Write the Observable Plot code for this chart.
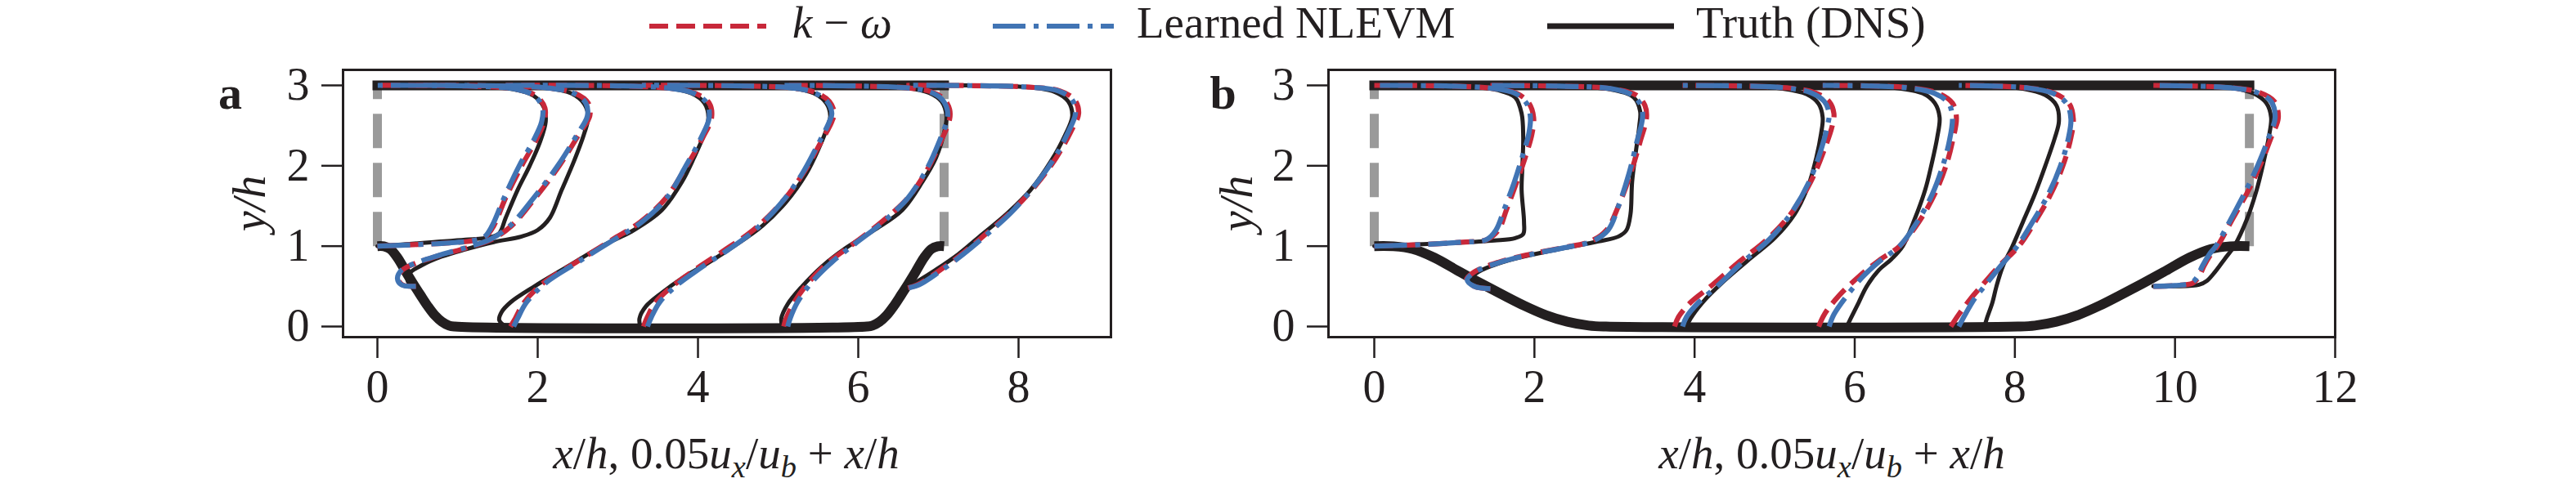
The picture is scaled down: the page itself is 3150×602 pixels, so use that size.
<!DOCTYPE html>
<html><head><meta charset="utf-8">
<script src="https://cdn.jsdelivr.net/npm/d3@7"></script>
<script src="https://cdn.jsdelivr.net/npm/@observablehq/plot@0.6"></script>
<style>
body{margin:0;background:#fff;overflow:hidden;}
#fig{position:relative;width:3150px;height:602px;font-family:'Liberation Serif','Times New Roman',serif;color:#231f20;background:#fff;}
#legend{position:absolute;left:0;top:0;width:3150px;height:70px;}
.lt{position:absolute;top:0;font-size:55px;line-height:55px;white-space:nowrap;}
.ls{position:absolute;top:22px;}
.plot{position:absolute;top:70px;}
.xl{position:absolute;top:527px;font-size:55px;line-height:55px;white-space:nowrap;transform:translateX(-50%);}
.xl .s{font-size:0.7em;position:relative;top:0.28em;}
</style></head><body><div id="fig">
<div id="legend"></div>
</div>
<script>
// ---------- data ----------
const xTicksA = [0, 2, 4, 6, 8];
const xTicksB = [0, 2, 4, 6, 8, 10, 12];
const yTicks = [0, 1, 2, 3];
const lengthA = 7.071, lengthB = 10.929;
const legendLabels = ["k − ω", "Learned NLEVM", "Truth (DNS)"];

const bottomWallA = [[0,1],[0.08,0.998],[0.16,0.964],[0.25,0.857],[0.357,0.678],[0.446,0.533],[0.536,0.393],[0.625,0.258],[0.714,0.142],[0.804,0.06],[0.893,0.012],[0.964,0],[6.107,0],[6.178,0.012],[6.267,0.06],[6.357,0.142],[6.446,0.258],[6.535,0.393],[6.625,0.533],[6.714,0.678],[6.821,0.857],[6.911,0.964],[6.991,0.998],[7.071,1]];
const bottomWallB = [[0,1],[0.241,0.998],[0.482,0.964],[0.75,0.857],[1.071,0.678],[1.339,0.533],[1.607,0.393],[1.875,0.258],[2.143,0.142],[2.411,0.06],[2.679,0.012],[2.893,0],[8.036,0],[8.25,0.012],[8.518,0.06],[8.786,0.142],[9.054,0.258],[9.322,0.393],[9.59,0.533],[9.858,0.678],[10.179,0.857],[10.447,0.964],[10.688,0.998],[10.929,1]];

// panel a profiles (x = x/h + 0.05 u/ub, y = y/h)
const dnsA = [
 [[0,1.0],[0.3,1.02],[0.7,1.05],[1.1,1.08],[1.4,1.11],[1.52,1.16],[1.6,1.35],[1.75,1.7],[1.9,2.0],[2.03,2.3],[2.1,2.55],[2.08,2.72],[1.95,2.87],[1.7,2.95],[1.2,2.99],[0.6,3.0],[0,3.0]],
 [[0.48,0.5],[0.38,0.56],[0.4,0.66],[0.55,0.76],[0.8,0.87],[1.1,0.96],[1.45,1.05],[1.8,1.12],[2.0,1.2],[2.15,1.35],[2.3,1.7],[2.45,2.05],[2.58,2.4],[2.63,2.6],[2.58,2.77],[2.42,2.9],[2.1,2.97],[1.5,3.0],[0.48,3.0]],
 [[1.6,0.0],[1.52,0.08],[1.55,0.18],[1.66,0.3],[1.96,0.5],[2.38,0.75],[2.8,1.0],[3.2,1.2],[3.55,1.45],[3.8,1.8],[3.95,2.1],[4.08,2.4],[4.13,2.6],[4.08,2.78],[3.92,2.9],[3.6,2.97],[2.8,3.0],[1.6,3.0]],
 [[3.28,0.0],[3.27,0.1],[3.35,0.25],[3.55,0.42],[3.8,0.6],[4.14,0.8],[4.45,1.0],[4.8,1.25],[5.1,1.55],[5.35,1.9],[5.5,2.2],[5.62,2.5],[5.65,2.62],[5.6,2.78],[5.45,2.9],[5.15,2.97],[4.3,3.0],[3.3,3.0]],
 [[5.05,0.0],[5.04,0.1],[5.12,0.28],[5.3,0.5],[5.55,0.75],[5.85,0.98],[6.2,1.2],[6.55,1.45],[6.8,1.8],[6.97,2.1],[7.08,2.45],[7.1,2.62],[7.04,2.8],[6.88,2.91],[6.6,2.97],[5.9,3.0],[5.08,3.0]],
 [[6.6,0.48],[6.72,0.55],[6.96,0.7],[7.25,0.9],[7.55,1.15],[7.85,1.4],[8.15,1.7],[8.4,2.05],[8.58,2.38],[8.67,2.62],[8.62,2.8],[8.45,2.92],[8.1,2.98],[7.4,3.0],[6.6,3.0]]
];
const kwA = [
 [[0,1.0],[0.5,1.02],[0.9,1.04],[1.2,1.07],[1.35,1.12],[1.45,1.25],[1.6,1.6],[1.8,2.0],[1.97,2.3],[2.08,2.55],[2.09,2.72],[1.98,2.87],[1.75,2.95],[1.2,2.99],[0,3.0]],
 [[0.48,0.5],[0.31,0.52],[0.26,0.6],[0.31,0.7],[0.46,0.78],[0.76,0.88],[1.12,0.98],[1.42,1.08],[1.67,1.25],[1.97,1.6],[2.27,2.0],[2.52,2.4],[2.65,2.62],[2.63,2.78],[2.47,2.9],[2.1,2.97],[0.48,3.0]],
 [[1.66,0.0],[1.72,0.1],[1.83,0.3],[2.08,0.55],[2.48,0.8],[2.88,1.05],[3.28,1.3],[3.6,1.6],[3.86,2.0],[4.06,2.35],[4.17,2.6],[4.14,2.78],[3.97,2.9],[3.6,2.97],[1.6,3.0]],
 [[3.32,0.0],[3.37,0.12],[3.47,0.3],[3.68,0.5],[3.98,0.72],[4.33,0.95],[4.69,1.2],[5.05,1.55],[5.31,1.9],[5.51,2.25],[5.67,2.55],[5.7,2.66],[5.64,2.8],[5.47,2.91],[5.15,2.97],[3.3,3.0]],
 [[5.07,0.0],[5.1,0.1],[5.2,0.3],[5.38,0.55],[5.63,0.8],[5.94,1.03],[6.29,1.3],[6.62,1.6],[6.86,1.95],[7.03,2.3],[7.14,2.58],[7.14,2.7],[7.07,2.83],[6.91,2.92],[6.6,2.97],[5.08,3.0]],
 [[6.62,0.48],[6.74,0.52],[6.99,0.68],[7.29,0.9],[7.59,1.15],[7.9,1.42],[8.21,1.75],[8.47,2.1],[8.65,2.42],[8.75,2.65],[8.7,2.82],[8.52,2.93],[8.1,2.98],[6.6,3.0]]
];
const nlevmA = [
 [[0,1.0],[0.5,1.02],[0.9,1.04],[1.2,1.07],[1.34,1.12],[1.43,1.25],[1.58,1.6],[1.77,2.0],[1.94,2.3],[2.05,2.55],[2.06,2.72],[1.96,2.87],[1.74,2.95],[1.2,2.99],[0,3.0]],
 [[0.48,0.5],[0.3,0.52],[0.25,0.6],[0.3,0.7],[0.45,0.78],[0.75,0.88],[1.1,0.98],[1.4,1.08],[1.65,1.25],[1.95,1.6],[2.25,2.0],[2.5,2.4],[2.62,2.62],[2.6,2.78],[2.45,2.9],[2.1,2.97],[0.48,3.0]],
 [[1.7,0.0],[1.75,0.1],[1.86,0.3],[2.11,0.55],[2.5,0.8],[2.9,1.05],[3.3,1.3],[3.61,1.6],[3.85,2.0],[4.04,2.35],[4.14,2.6],[4.11,2.78],[3.95,2.9],[3.6,2.97],[1.6,3.0]],
 [[3.37,0.0],[3.42,0.12],[3.52,0.3],[3.72,0.5],[4.02,0.72],[4.37,0.95],[4.71,1.2],[5.05,1.55],[5.3,1.9],[5.49,2.25],[5.64,2.55],[5.67,2.65],[5.61,2.8],[5.45,2.91],[5.15,2.97],[3.3,3.0]],
 [[5.12,0.0],[5.15,0.1],[5.24,0.3],[5.42,0.55],[5.67,0.8],[5.96,1.03],[6.31,1.3],[6.62,1.6],[6.85,1.95],[7.01,2.3],[7.11,2.58],[7.11,2.7],[7.04,2.83],[6.89,2.92],[6.6,2.97],[5.08,3.0]],
 [[6.63,0.48],[6.76,0.52],[7.01,0.68],[7.31,0.9],[7.61,1.15],[7.91,1.42],[8.2,1.75],[8.45,2.1],[8.62,2.42],[8.71,2.65],[8.67,2.82],[8.5,2.93],[8.1,2.98],[6.6,3.0]]
];

// panel b profiles
const dnsB = [
 [[0,1.0],[0.5,1.02],[1.0,1.04],[1.5,1.07],[1.76,1.1],[1.86,1.15],[1.87,1.3],[1.84,1.7],[1.85,2.0],[1.86,2.36],[1.84,2.65],[1.76,2.85],[1.55,2.94],[1.1,2.99],[0.5,3.0],[0,3.0]],
 [[1.45,0.47],[1.3,0.52],[1.22,0.6],[1.3,0.68],[1.6,0.8],[2.0,0.9],[2.4,0.98],[2.8,1.06],[3.05,1.12],[3.15,1.2],[3.2,1.4],[3.22,1.8],[3.27,2.2],[3.31,2.5],[3.32,2.68],[3.24,2.85],[2.95,2.95],[2.3,2.99],[1.45,3.0]],
 [[3.9,0.0],[3.95,0.1],[4.1,0.3],[4.35,0.55],[4.7,0.85],[5.0,1.1],[5.25,1.4],[5.42,1.75],[5.52,2.1],[5.58,2.4],[5.6,2.6],[5.55,2.77],[5.4,2.89],[5.1,2.96],[4.5,2.99],[3.85,3.0]],
 [[5.9,0.0],[5.95,0.1],[6.05,0.3],[6.15,0.5],[6.3,0.7],[6.46,0.84],[6.6,1.0],[6.75,1.34],[6.88,1.7],[6.96,2.02],[7.03,2.35],[7.06,2.6],[7.0,2.78],[6.85,2.9],[6.5,2.97],[5.6,3.0]],
 [[7.62,0.0],[7.65,0.1],[7.72,0.3],[7.77,0.5],[7.85,0.75],[7.97,1.0],[8.1,1.3],[8.25,1.65],[8.38,2.0],[8.5,2.35],[8.55,2.55],[8.52,2.75],[8.38,2.88],[8.1,2.96],[7.3,3.0]],
 [[9.73,0.5],[10.0,0.5],[10.3,0.52],[10.4,0.57],[10.5,0.68],[10.62,0.84],[10.74,1.0],[10.9,1.34],[11.02,1.7],[11.1,2.02],[11.17,2.35],[11.2,2.6],[11.14,2.78],[10.98,2.9],[10.7,2.97],[9.73,3.0]]
];
const kwB = [
 [[0,1.0],[0.6,1.02],[1.1,1.05],[1.4,1.08],[1.55,1.2],[1.65,1.45],[1.78,1.8],[1.9,2.15],[1.97,2.4],[1.99,2.6],[1.93,2.78],[1.78,2.9],[1.5,2.96],[1.0,2.99],[0,3.0]],
 [[1.45,0.47],[1.25,0.5],[1.15,0.58],[1.25,0.68],[1.55,0.8],[1.95,0.9],[2.35,0.98],[2.7,1.06],[2.9,1.2],[3.05,1.5],[3.2,1.9],[3.32,2.3],[3.4,2.6],[3.38,2.75],[3.27,2.88],[2.95,2.96],[2.3,2.99],[1.45,3.0]],
 [[3.75,0.0],[3.8,0.12],[3.95,0.3],[4.2,0.5],[4.55,0.8],[4.9,1.08],[5.2,1.4],[5.45,1.8],[5.62,2.2],[5.72,2.5],[5.74,2.65],[5.68,2.8],[5.5,2.91],[5.15,2.97],[3.85,3.0]],
 [[5.55,0.0],[5.62,0.15],[5.8,0.38],[6.05,0.62],[6.3,0.82],[6.56,1.0],[6.8,1.3],[7.0,1.65],[7.14,2.0],[7.22,2.3],[7.27,2.6],[7.22,2.78],[7.05,2.9],[6.7,2.97],[5.6,3.0]],
 [[7.2,0.0],[7.3,0.15],[7.45,0.35],[7.58,0.5],[7.8,0.75],[8.05,1.0],[8.25,1.3],[8.45,1.65],[8.6,2.0],[8.7,2.35],[8.73,2.58],[8.68,2.77],[8.5,2.9],[8.15,2.97],[7.3,3.0]],
 [[9.73,0.5],[10.0,0.51],[10.22,0.54],[10.3,0.62],[10.36,0.75],[10.45,0.9],[10.53,1.0],[10.72,1.34],[10.92,1.7],[11.07,2.02],[11.2,2.35],[11.29,2.6],[11.24,2.8],[11.06,2.91],[10.7,2.97],[9.73,3.0]]
];
const nlevmB = [
 [[0,1.0],[0.6,1.02],[1.1,1.05],[1.4,1.08],[1.52,1.2],[1.62,1.45],[1.75,1.8],[1.86,2.15],[1.93,2.4],[1.95,2.6],[1.9,2.78],[1.76,2.9],[1.5,2.96],[1.0,2.99],[0,3.0]],
 [[1.45,0.47],[1.25,0.5],[1.16,0.58],[1.26,0.68],[1.57,0.8],[1.97,0.9],[2.37,0.98],[2.72,1.06],[2.92,1.2],[3.05,1.5],[3.18,1.9],[3.28,2.3],[3.35,2.6],[3.33,2.75],[3.22,2.88],[2.95,2.96],[2.3,2.99],[1.45,3.0]],
 [[3.85,0.0],[3.9,0.12],[4.05,0.3],[4.28,0.5],[4.6,0.8],[4.93,1.08],[5.2,1.4],[5.43,1.8],[5.58,2.2],[5.66,2.5],[5.68,2.65],[5.62,2.8],[5.45,2.91],[5.12,2.97],[3.85,3.0]],
 [[5.68,0.0],[5.74,0.15],[5.9,0.38],[6.1,0.62],[6.32,0.82],[6.56,1.0],[6.78,1.3],[6.97,1.65],[7.1,2.0],[7.18,2.3],[7.22,2.6],[7.17,2.78],[7.0,2.9],[6.65,2.97],[5.6,3.0]],
 [[7.3,0.0],[7.38,0.15],[7.5,0.35],[7.62,0.5],[7.82,0.75],[8.03,1.0],[8.22,1.3],[8.42,1.65],[8.57,2.0],[8.67,2.35],[8.7,2.58],[8.65,2.77],[8.48,2.9],[8.15,2.97],[7.3,3.0]],
 [[9.73,0.5],[10.0,0.51],[10.2,0.54],[10.28,0.62],[10.34,0.75],[10.43,0.9],[10.51,1.0],[10.7,1.34],[10.89,1.7],[11.04,2.02],[11.17,2.35],[11.25,2.6],[11.2,2.8],[11.03,2.91],[10.7,2.97],[9.73,3.0]]
];

// ---------- style ----------
const C_KW = "#c8283a", C_NL = "#4174b4", C_DNS = "#231f20", C_GRAY = "#9a9a9a";
const FONT = "'Liberation Serif', 'Times New Roman', serif";
const DASH_KW = "23,10", DASH_NL = "40,10,6,10", DASH_GRAY = "42,18";

function flat(profiles) {
  const out = [];
  profiles.forEach((p, k) => p.forEach(([x, y]) => out.push({x, y, k})));
  return out;
}
const pts = a => a.map(([x, y]) => ({x, y}));
const intFmt = d3.format("d");

function panel({left, width, mLeft, mRight, xDomain, xTicks, L, wall, dns, kw, nl, letter, letterDx, ylabDx}) {
  const svg = Plot.plot({
    width, height: 440, marginTop: 15, marginBottom: 98, marginLeft: mLeft, marginRight: mRight,
    x: {domain: xDomain}, y: {domain: [-0.132, 3.193]},
    style: {fontFamily: FONT, color: C_DNS, background: "white", overflow: "visible"},
    marks: [
      Plot.line([{x:0,y:1,k:0},{x:0,y:3,k:0},{x:L,y:1,k:1},{x:L,y:3,k:1}], {x:"x", y:"y", z:"k", stroke:C_GRAY, strokeWidth:11, strokeDasharray:DASH_GRAY, strokeLinecap:"butt"}),
      Plot.line(pts(wall), {x:"x", y:"y", stroke:C_DNS, strokeWidth:12, curve:"catmull-rom", strokeLinecap:"butt"}),
      Plot.line(pts([[0,3],[L,3]]), {x:"x", y:"y", stroke:C_DNS, strokeWidth:12, strokeLinecap:"square"}),
      Plot.line(flat(dns), {x:"x", y:"y", z:"k", stroke:C_DNS, strokeWidth:5, curve:"catmull-rom"}),
      Plot.line(flat(kw), {x:"x", y:"y", z:"k", stroke:C_KW, strokeWidth:6.2, strokeDasharray:DASH_KW, strokeLinecap:"butt", curve:"catmull-rom"}),
      Plot.line(flat(nl), {x:"x", y:"y", z:"k", stroke:C_NL, strokeWidth:6.2, strokeDasharray:DASH_NL, strokeLinecap:"butt", curve:"catmull-rom"}),
      Plot.frame({stroke:C_DNS, strokeWidth:3}),
      Plot.axisX(xTicks, {anchor:"bottom", tickSize:26, tickPadding:14, strokeWidth:2.5, fontSize:56, fontFamily:FONT, tickFormat:intFmt, label:null}),
      Plot.axisY(yTicks, {anchor:"left", tickSize:26, tickPadding:15, strokeWidth:2.5, fontSize:56, fontFamily:FONT, tickFormat:intFmt, label:null}),
      Plot.text([letter], {frameAnchor:"top-left", text:d=>d, dx:letterDx, dy:29, fontSize:58, fontFamily:FONT, fontWeight:"bold", textAnchor:"middle", lineAnchor:"middle", fill:C_DNS}),
      Plot.text(["y/h"], {frameAnchor:"left", text:d=>d, dx:ylabDx, rotate:-90, fontSize:56, fontFamily:FONT, fontStyle:"italic", textAnchor:"middle", lineAnchor:"middle", fill:C_DNS})
    ]
  });
  svg.classList.add("plot");
  svg.style.left = left + "px";
  return svg;
}

const fig = document.getElementById("fig");
fig.appendChild(panel({left:0, width:1440, mLeft:419, mRight:82, xDomain:[-0.4286, 9.153], xTicks:xTicksA, L:lengthA, wall:bottomWallA, dns:dnsA, kw:kwA, nl:nlevmA, letter:"a", letterDx:-138, ylabDx:-113}));
fig.appendChild(panel({left:1440, width:1710, mLeft:184, mRight:295, xDomain:[-0.572, 12.0], xTicks:xTicksB, L:lengthB, wall:bottomWallB, dns:dnsB, kw:kwB, nl:nlevmB, letter:"b", letterDx:-129, ylabDx:-111}));

// x labels
const xlab = '<i>x</i>/<i>h</i>, 0.05<i>u</i><span class="s"><i>x</i></span>/<i>u</i><span class="s"><i>b</i></span> + <i>x</i>/<i>h</i>';
[888, 2240].forEach(cx => {
  const d = document.createElement("div");
  d.className = "xl"; d.style.left = cx + "px"; d.innerHTML = xlab;
  fig.appendChild(d);
});

// legend
const lg = document.getElementById("legend");
function sample(x0, x1, color, dash, w) {
  const s = d3.create("svg").attr("class", "ls").attr("width", x1 - x0).attr("height", 20).style("left", x0 + "px");
  s.append("line").attr("x1", 0).attr("x2", x1 - x0).attr("y1", 10).attr("y2", 10)
    .attr("stroke", color).attr("stroke-width", w).attr("stroke-dasharray", dash);
  lg.appendChild(s.node());
}
function ltext(x, html) {
  const d = document.createElement("div"); d.className = "lt"; d.style.left = x + "px"; d.innerHTML = html; lg.appendChild(d);
}
sample(794, 937, C_KW, DASH_KW, 6.2);
ltext(969, '<i>k</i> − <i>ω</i>');
sample(1214, 1362, C_NL, DASH_NL, 6.2);
ltext(1390, legendLabels[1]);
sample(1892, 2047, C_DNS, null, 7);
ltext(2074, legendLabels[2]);
</script></body></html>
